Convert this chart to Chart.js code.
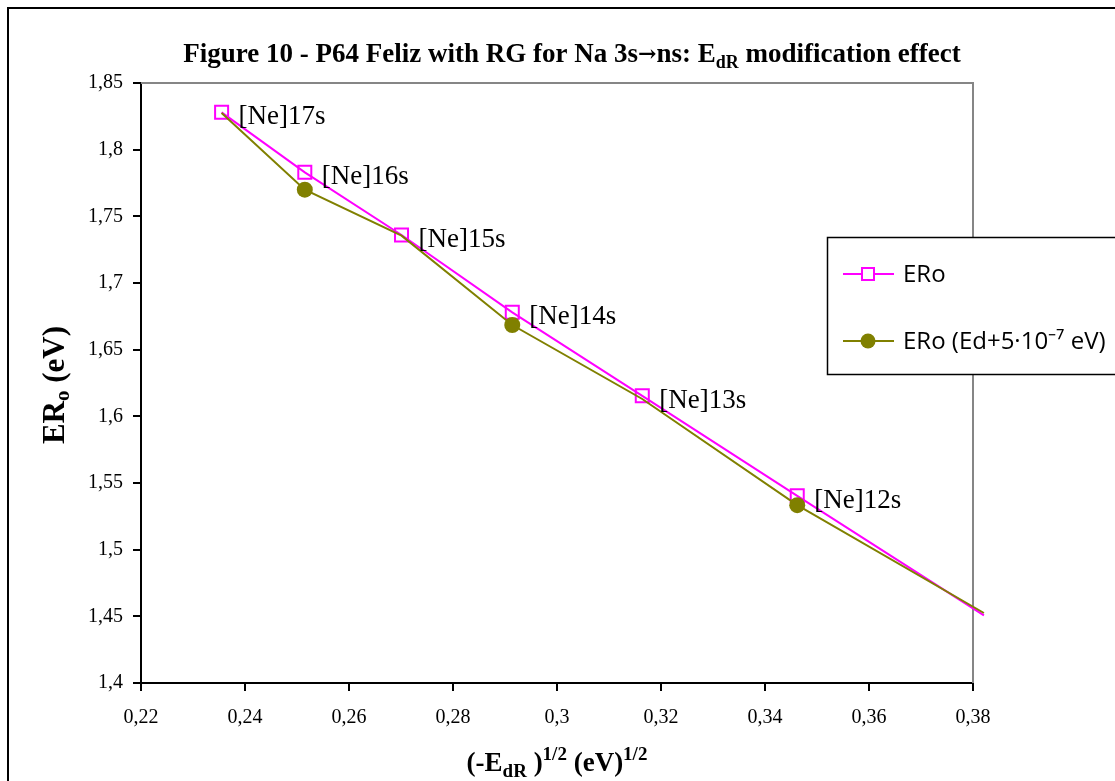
<!DOCTYPE html>
<html>
<head>
<meta charset="utf-8">
<script src="https://cdn.jsdelivr.net/npm/chart.js@4.4.1/dist/chart.umd.min.js"></script>
<style>
html, body { margin: 0; padding: 0; background: #fff; }
</style>
</head>
<body>
<canvas id="myChart" width="1115" height="781"></canvas>
<script>
//Chart data
var xValues = [0.2355, 0.2515, 0.2701, 0.2914, 0.3164, 0.3462, 0.3821];
var eroValues = [1.828, 1.783, 1.736, 1.678, 1.6154, 1.5404, 1.4507];
var eroEdValues = [1.8275, 1.770, 1.7355, 1.6685, 1.613, 1.5334, 1.4525];
var eroEdMarked = [false, true, false, true, false, true, false];
var levelLabels = ['[Ne]17s', '[Ne]16s', '[Ne]15s', '[Ne]14s', '[Ne]13s', '[Ne]12s', ''];
var seriesNames = ['ERo', 'ERo (Ed+5\u00b710\u207b\u2077 eV)'];
var xTicks = [0.22, 0.24, 0.26, 0.28, 0.3, 0.32, 0.34, 0.36, 0.38];
var yTicks = [1.4, 1.45, 1.5, 1.55, 1.6, 1.65, 1.7, 1.75, 1.8, 1.85];

var serif = 'Liberation Serif';
var magenta = '#ff00ff';
var olive = '#808000';

//Build point lists
var eroData = [];
var eroEdData = [];
for (var i = 0; i < xValues.length; i++) {
    eroData.push({ x: xValues[i], y: eroValues[i] });
    eroEdData.push({ x: xValues[i], y: eroEdValues[i] });
}
//last point sits just outside the plot, only the line reaches it
var eroRadius = levelLabels.map(function (l) { return l ? 9.2 : 0; });
var eroEdRadius = eroEdMarked.map(function (m) { return m ? 8 : 0; });

function commaTick(v) {
    return String(v).replace('.', ',');
}

//draw a string made of parts with sub/superscripts
function drawRich(ctx, parts, x, y, align) {
    var total = 0;
    parts.forEach(function (p) {
        ctx.font = 'bold ' + p.size + 'px "' + (p.family || serif) + '"';
        p.w = ctx.measureText(p.t).width;
        total += p.w;
    });
    var cx = align == 'center' ? x - total / 2 : x;
    ctx.textAlign = 'left';
    ctx.textBaseline = 'alphabetic';
    parts.forEach(function (p) {
        ctx.font = 'bold ' + p.size + 'px "' + (p.family || serif) + '"';
        ctx.fillText(p.t, cx, y + (p.dy || 0));
        cx += p.w;
    });
}

var decorPlugin = {
    id: 'decor',
    beforeDraw: function (chart) {
        var ctx = chart.ctx;
        ctx.save();
        ctx.fillStyle = '#fff';
        ctx.fillRect(0, 0, chart.width, chart.height);
        ctx.strokeStyle = '#000';
        ctx.lineWidth = 2;
        ctx.strokeRect(8, 8, 1300, 1000);
        ctx.restore();
    },
    beforeDatasetsDraw: function (chart) {
        var a = chart.chartArea;
        var ctx = chart.ctx;
        ctx.save();
        ctx.strokeStyle = '#868686';
        ctx.lineWidth = 2;
        ctx.beginPath();
        ctx.moveTo(a.left, a.top);
        ctx.lineTo(a.right, a.top);
        ctx.lineTo(a.right, a.bottom);
        ctx.stroke();
        ctx.restore();
    },
    afterDatasetsDraw: function (chart) {
        var ctx = chart.ctx;
        var meta = chart.getDatasetMeta(0);
        ctx.save();
        ctx.fillStyle = '#000';
        ctx.font = '27px "' + serif + '"';
        ctx.textAlign = 'left';
        ctx.textBaseline = 'middle';
        meta.data.forEach(function (pt, idx) {
            if (levelLabels[idx]) {
                ctx.fillText(levelLabels[idx], pt.x + 17, pt.y + 5);
            }
        });
        ctx.restore();
    },
    afterDraw: function (chart) {
        var ctx = chart.ctx;
        var a = chart.chartArea;
        ctx.save();
        ctx.fillStyle = '#000';
        //chart title
        drawRich(ctx, [
            { t: 'Figure 10 - P64 Feliz with RG for Na 3s', size: 27 },
            { t: '\u2192', size: 22, family: 'DejaVu Serif', dy: -1 },
            { t: 'ns: E', size: 27 },
            { t: 'dR', size: 18, dy: 6 },
            { t: ' modification effect', size: 27 }
        ], 572, 62, 'center');
        //x axis title
        drawRich(ctx, [
            { t: '(-E', size: 27 },
            { t: 'dR', size: 19, dy: 6 },
            { t: ' )', size: 27 },
            { t: '1/2', size: 19, dy: -11 },
            { t: ' (eV)', size: 27 },
            { t: '1/2', size: 19, dy: -11 }
        ], (a.left + a.right) / 2, 771, 'center');
        //y axis title
        ctx.save();
        ctx.translate(64, (a.top + a.bottom) / 2 + 2);
        ctx.rotate(-Math.PI / 2);
        drawRich(ctx, [
            { t: 'ER', size: 31 },
            { t: 'o', size: 21, dy: 5 },
            { t: ' (eV)', size: 31 }
        ], 0, 0, 'center');
        ctx.restore();

        //legend box
        ctx.fillStyle = '#fff';
        ctx.fillRect(827, 237, 400, 137);
        ctx.strokeStyle = '#000';
        ctx.lineWidth = 1.5;
        ctx.strokeRect(827.5, 237.5, 400, 137);
        var rows = [
            { y: 274, color: magenta, square: true },
            { y: 341, color: olive, square: false }
        ];
        rows.forEach(function (r, idx) {
            ctx.strokeStyle = r.color;
            ctx.lineWidth = 2;
            ctx.beginPath();
            ctx.moveTo(843, r.y);
            ctx.lineTo(894, r.y);
            ctx.stroke();
            if (r.square) {
                ctx.fillStyle = '#fff';
                ctx.fillRect(862, r.y - 6, 12, 12);
                ctx.strokeRect(862, r.y - 6, 12, 12);
            } else {
                ctx.fillStyle = r.color;
                ctx.beginPath();
                ctx.arc(868, r.y, 7.5, 0, Math.PI * 2);
                ctx.fill();
            }
            ctx.fillStyle = '#000';
            ctx.font = '24px "Open Sans"';
            ctx.textAlign = 'left';
            ctx.textBaseline = 'middle';
            ctx.fillText(seriesNames[idx], 903, r.y + 1);
        });
        ctx.restore();
    }
};

const ctx = document.getElementById('myChart');
const myChart = new Chart(ctx, {
    type: 'scatter',
    data: {
        datasets: [{
            label: seriesNames[0],
            data: eroData,
            showLine: true,
            borderColor: magenta,
            borderWidth: 2,
            backgroundColor: '#fff',
            pointStyle: 'rect',
            pointRadius: eroRadius,
            pointBorderColor: magenta,
            pointBorderWidth: 2,
            pointBackgroundColor: 'rgba(255,255,255,0)',
            clip: false,
            order: 1
        }, {
            label: seriesNames[1],
            data: eroEdData,
            showLine: true,
            borderColor: olive,
            borderWidth: 2,
            pointStyle: 'circle',
            pointRadius: eroEdRadius,
            pointBorderWidth: 0,
            pointBackgroundColor: olive,
            pointBorderColor: olive,
            clip: false,
            order: 0
        }]
    },
    options: {
        responsive: false,
        animation: false,
        devicePixelRatio: 1,
        layout: {
            padding: { left: 0, right: 142, top: 83, bottom: 0 }
        },
        plugins: {
            legend: { display: false },
            title: { display: false },
            tooltip: { enabled: false }
        },
        scales: {
            x: {
                type: 'linear',
                min: 0.22,
                max: 0.38,
                afterBuildTicks: function (scale) {
                    scale.ticks = xTicks.map(function (v) { return { value: v }; });
                },
                afterFit: function (scale) {
                    scale.height = 98;
                },
                ticks: {
                    callback: commaTick,
                    color: '#000',
                    font: { family: serif, size: 20 },
                    padding: 15,
                    maxRotation: 0
                },
                grid: {
                    drawOnChartArea: false,
                    drawTicks: true,
                    tickLength: 8,
                    color: '#000',
                    lineWidth: 2
                },
                border: { display: true, color: '#000', width: 2 }
            },
            y: {
                type: 'linear',
                min: 1.4,
                max: 1.85,
                afterBuildTicks: function (scale) {
                    scale.ticks = yTicks.map(function (v) { return { value: v }; });
                },
                afterFit: function (scale) {
                    scale.width = 141;
                },
                ticks: {
                    callback: commaTick,
                    color: '#000',
                    font: { family: serif, size: 20 },
                    padding: 10
                },
                grid: {
                    drawOnChartArea: false,
                    drawTicks: true,
                    tickLength: 8,
                    color: '#000',
                    lineWidth: 2
                },
                border: { display: true, color: '#000', width: 2 }
            }
        }
    },
    plugins: [decorPlugin]
});
</script>
</body>
</html>
